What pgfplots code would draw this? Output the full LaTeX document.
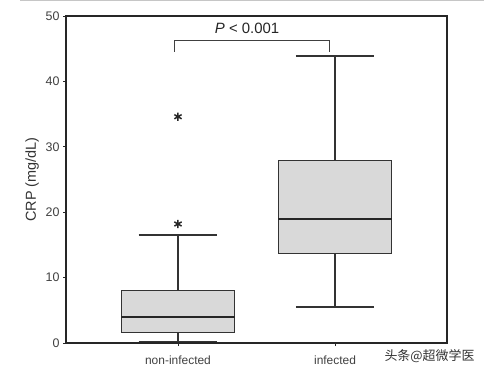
\documentclass[border=0pt]{standalone}
\usepackage{pgfplots}
\pgfplotsset{compat=1.18}
\usepgfplotslibrary{statistics}
\usepackage{fontspec}
\setmainfont{Liberation Sans}
\newfontfamily\cjk{Noto Sans CJK SC}
\begin{document}
\begin{tikzpicture}[x=1bp,y=1bp]
\useasboundingbox (0,0) rectangle (486,376);
\draw[gray!45, line width=1bp] (20,375) -- (484,375);
\begin{axis}[
  at={(66bp,33bp)}, anchor=south west,
  scale only axis, width=381bp, height=327bp,
  axis lines=box,
  xmin=0.287, xmax=2.713, ymin=0, ymax=50,
  ytick={0,10,...,50},
  xtick={1,2}, xticklabels={non-infected,infected},
  tick align=outside, tick pos=left,
  major tick length=3bp,
  axis line style={black!85, line width=1.1bp},
  every tick/.style={black!85, line width=0.8bp},
  tick label style={font=\fontsize{12}{14}\selectfont, text=black!75},
  xticklabel style={yshift=-6bp},
  yticklabel style={font=\fontsize{12.5}{14}\selectfont},
  ylabel={CRP (mg/dL)},
  ylabel style={font=\fontsize{14.5}{16}\selectfont, text=black!80},
  /pgf/number format/assume math mode=true,
  boxplot/draw direction=y,
  boxplot/every median/.style={line width=1.9bp, draw=black!85},
  clip=false,
]
\draw[black!85, line width=1.1bp] (rel axis cs:0,1) -- (rel axis cs:1,1) -- (rel axis cs:1,0);
\addplot[draw=black!80, line width=1.3bp, fill=gray!30,
  mark=asterisk, mark size=4.2bp, mark options={black!85, line width=1.5bp},
  boxplot prepared={median=4.0, upper quartile=8.0, lower quartile=1.6,
    upper whisker=16.5, lower whisker=0.2,
    box extend=0.72, whisker extend=0.5, draw position=1}]
  table[row sep=\\, y index=0] {34.6\\ 18.2\\};
\addplot[draw=black!80, line width=1.3bp, fill=gray!30,
  boxplot prepared={median=18.9, upper quartile=27.9, lower quartile=13.7,
    upper whisker=43.9, lower whisker=5.5,
    box extend=0.72, whisker extend=0.5, draw position=2}]
  coordinates {};
\draw[black!75, line width=0.8bp] (axis cs:0.975,44.5) -- (axis cs:0.975,46.3) -- (axis cs:1.962,46.3) -- (axis cs:1.962,44.5);
\node[font=\fontsize{15}{17}\selectfont, text=black!85] at (axis cs:1.44,48.1) {\textit{P} < 0.001};
\end{axis}
\node[font=\cjk\fontsize{13}{15}\selectfont, text=black!80, anchor=east] at (478,20) {头条@超微学医};
\end{tikzpicture}
\end{document}
